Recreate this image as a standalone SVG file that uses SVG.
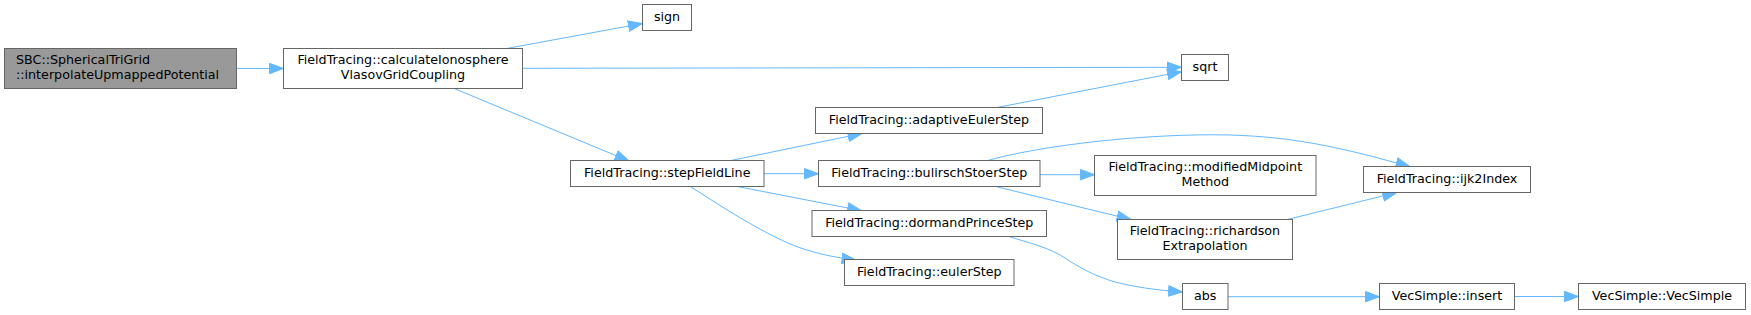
<svg xmlns="http://www.w3.org/2000/svg" width="1751" height="315" viewBox="0 0 1751 315">
<style>
.n rect{fill:#ffffff;stroke:#666666;stroke-width:1}
.n.h rect{fill:#999999}
.n text{font-family:"DejaVu Sans","Liberation Sans",sans-serif;font-size:12.7px;fill:#000000;text-anchor:middle}
.n text.l{text-anchor:start}
.e path{fill:none;stroke:#63b8ff;stroke-width:1;marker-end:url(#ah)}
</style>
<defs>
<marker id="ah" markerUnits="userSpaceOnUse" markerWidth="16" markerHeight="12" refX="14.5" refY="6" orient="auto">
<path d="M0.5,0.8 L14.5,6 L0.5,11.2 z" fill="#63b8ff" stroke="#63b8ff" stroke-width="1"/>
</marker>
</defs>
<rect width="1751" height="315" fill="#ffffff"/>
<g id="edges" class="e">
<path d="M236.5,68.5 L283.5,68.5"/>
<path d="M507.7,48.3 L642.4,23.5"/>
<path d="M523,68.3 L1181.5,67.3"/>
<path d="M454.6,88.7 L629,161"/>
<path d="M731,160.5 L862,133.5"/>
<path d="M764,173.7 L818.5,173.7"/>
<path d="M737.3,186.5 L861.6,210.7"/>
<path d="M690.2,186.5 C715,202 750,226 790,244 C810,252 830,257 856,260"/>
<path d="M996,107.7 L1181.5,71.7"/>
<path d="M985,161.3 C1040,145 1150,133 1230,135 C1300,137 1350,150 1410,166.7"/>
<path d="M1040,174.7 L1094.5,174.7"/>
<path d="M995.6,186.5 L1131,219.5"/>
<path d="M1007,236 C1030,243 1050,248 1065,258 C1080,268 1095,276 1115,282 C1135,287 1155,290 1182.5,292"/>
<path d="M1287.3,219.5 L1396.7,192.5"/>
<path d="M1228,296.7 L1379.5,296.7"/>
<path d="M1514.5,296.5 L1578.5,296.5"/>
</g>
<g id="n_sbc" class="n h"><rect x="4.5" y="48.5" width="232" height="40"/><text class="l" x="16" y="64.3">SBC::SphericalTriGrid</text><text class="l" x="16" y="79.3">::interpolateUpmappedPotential</text></g>
<g id="n_calc" class="n"><rect x="283.5" y="48.5" width="239" height="40"/><text x="403" y="64.3">FieldTracing::calculateIonosphere</text><text x="403" y="79.3">VlasovGridCoupling</text></g>
<g id="n_sign" class="n"><rect x="642.5" y="4.5" width="49" height="26"/><text x="667" y="21">sign</text></g>
<g id="n_sqrt" class="n"><rect x="1181.5" y="54.5" width="47" height="26"/><text x="1205" y="71">sqrt</text></g>
<g id="n_step" class="n"><rect x="570.5" y="160.5" width="193.5" height="26"/><text x="667.25" y="177">FieldTracing::stepFieldLine</text></g>
<g id="n_adapt" class="n"><rect x="815.5" y="107.5" width="227" height="26"/><text x="929" y="124">FieldTracing::adaptiveEulerStep</text></g>
<g id="n_bul" class="n"><rect x="818.5" y="160.5" width="221.5" height="26"/><text x="929.25" y="177">FieldTracing::bulirschStoerStep</text></g>
<g id="n_dorm" class="n"><rect x="812" y="210.5" width="234.5" height="26"/><text x="929.25" y="227">FieldTracing::dormandPrinceStep</text></g>
<g id="n_euler" class="n"><rect x="844.5" y="259.5" width="169.5" height="26"/><text x="929.25" y="276">FieldTracing::eulerStep</text></g>
<g id="n_mid" class="n"><rect x="1094.5" y="155.5" width="221.5" height="40"/><text x="1205.25" y="171">FieldTracing::modifiedMidpoint</text><text x="1205.25" y="186">Method</text></g>
<g id="n_rich" class="n"><rect x="1117.5" y="219.5" width="175" height="40"/><text x="1205" y="235">FieldTracing::richardson</text><text x="1205" y="250">Extrapolation</text></g>
<g id="n_abs" class="n"><rect x="1182.5" y="283.5" width="45.5" height="26"/><text x="1205.25" y="300">abs</text></g>
<g id="n_ijk" class="n"><rect x="1363.5" y="166.5" width="167" height="26"/><text x="1447" y="183">FieldTracing::ijk2Index</text></g>
<g id="n_insert" class="n"><rect x="1379.5" y="283.5" width="135" height="26"/><text x="1447" y="300">VecSimple::insert</text></g>
<g id="n_vec" class="n"><rect x="1578.5" y="283.5" width="167" height="26"/><text x="1662" y="300">VecSimple::VecSimple</text></g>
</svg>
